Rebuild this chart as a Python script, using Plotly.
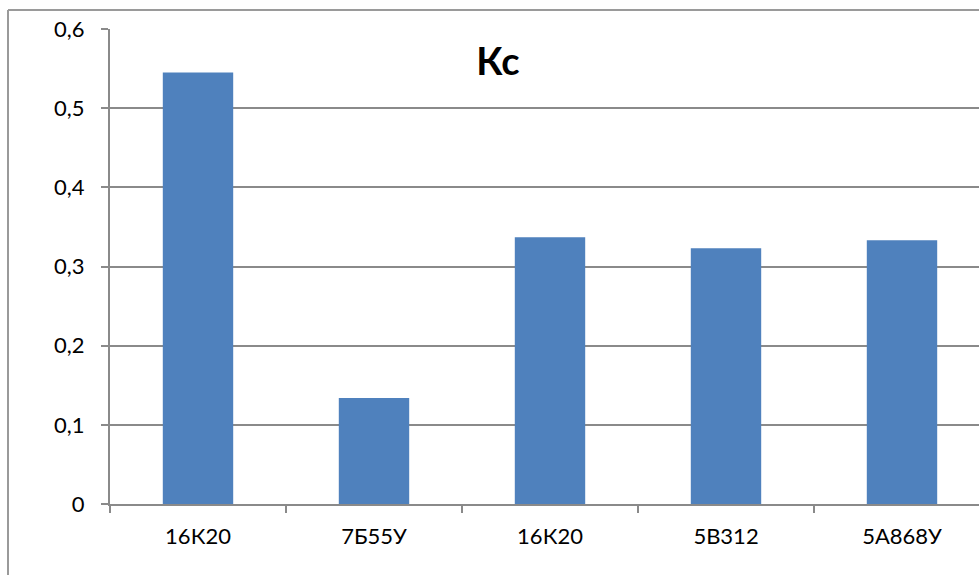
import plotly.graph_objects as go

categories = ["16К20", "7Б55У", "16К20", "5В312", "5А868У"]
values = [0.545, 0.134, 0.337, 0.323, 0.333]
y_tick_vals = [0, 0.1, 0.2, 0.3, 0.4, 0.5, 0.6]
y_tick_text = ["0", "0,1", "0,2", "0,3", "0,4", "0,5", "0,6"]
title_text = "Кс"

# make duplicate category names unique for the categorical axis
x_keys = [c + "\u200b" * i for i, c in enumerate(categories)]

W, H = 979, 575
ml, mr, mt, mb = 110, 0, 29, 71
plot_w = W - ml - mr
plot_h = H - mt - mb
cat_px = 176.0
x_max = -0.5 + plot_w / cat_px

grid_col = "#8a8a8a"
font_fam = "Lato, 'Open Sans', Arial, sans-serif"

fig = go.Figure(go.Bar(
    x=x_keys, y=values, marker=dict(color="#4f81bd", line=dict(width=0)),
    width=0.4,
))

def px_to_paper_x(px):
    return (px - ml) / plot_w

def px_to_paper_y(py):
    return (H - mb - py) / plot_h

fig.update_layout(
    width=W, height=H,
    margin=dict(l=ml, r=mr, t=mt, b=mb, pad=0),
    plot_bgcolor="white", paper_bgcolor="white",
    showlegend=False,
    bargap=0.6,
    font=dict(family=font_fam, size=22, color="#000000"),
    title=dict(text="<b>" + title_text + "</b>", xref="container", yref="container",
               x=498 / W, y=1 - 62 / H, xanchor="center", yanchor="middle",
               font=dict(family=font_fam, size=38, color="#000000")),
    xaxis=dict(
        type="category", range=[-0.5, x_max],
        tickvals=x_keys, ticktext=categories,
        showline=True, linecolor=grid_col, linewidth=2,
        ticks="outside", tickson="boundaries", ticklen=7, tickwidth=2, tickcolor=grid_col,
        ticklabelstandoff=12,
        showgrid=False, zeroline=False,
        tickfont=dict(family=font_fam, size=22, color="#000000"),
    ),
    yaxis=dict(
        range=[0, 0.6], tickvals=y_tick_vals, ticktext=y_tick_text,
        showgrid=True, gridcolor=grid_col, gridwidth=2,
        showline=True, linecolor=grid_col, linewidth=2,
        ticks="outside", ticklen=7, tickwidth=2, tickcolor=grid_col,
        ticklabelstandoff=12,
        zeroline=False,
        tickfont=dict(family=font_fam, size=22, color="#000000"),
    ),
    shapes=[
        dict(type="line", xref="paper", yref="paper",
             x0=px_to_paper_x(8), x1=px_to_paper_x(8),
             y0=px_to_paper_y(10), y1=px_to_paper_y(H + 5),
             line=dict(color="#9a9a9a", width=2)),
        dict(type="line", xref="paper", yref="paper",
             x0=px_to_paper_x(8), x1=px_to_paper_x(W + 5),
             y0=px_to_paper_y(10), y1=px_to_paper_y(10),
             line=dict(color="#9a9a9a", width=2)),
    ],
)

fig.write_html(
    "out.html",
    config={"displayModeBar": False},
    post_script="document.body.style.margin='0';document.body.style.overflow='hidden';",
)
